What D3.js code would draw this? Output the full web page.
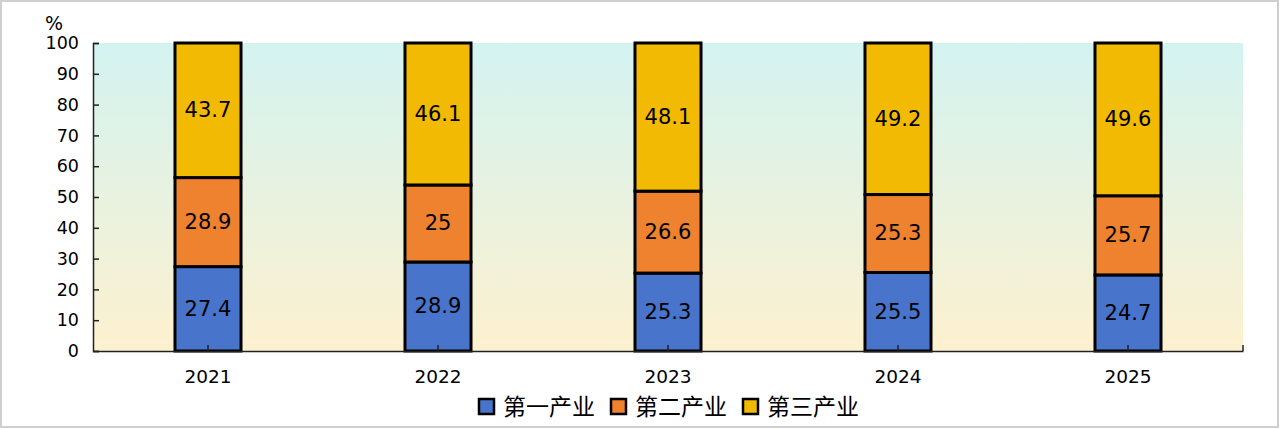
<!DOCTYPE html>
<html><head><meta charset="utf-8">
<script src="https://cdn.jsdelivr.net/npm/d3@7"></script>
<style>html,body{margin:0;padding:0;background:#fff;}svg{display:block;}</style>
</head><body>
<svg id="c" width="1280" height="429"></svg>
<script>
const years = ["2021","2022","2023","2024","2025"];
const seriesNames = ["第一产业","第二产业","第三产业"];
const primary = [27.4, 28.9, 25.3, 25.5, 24.7];
const secondary = [28.9, 25, 26.6, 25.3, 25.7];
const tertiary = [43.7, 46.1, 48.1, 49.2, 49.6];
const yTicks = [0,10,20,30,40,50,60,70,80,90,100];
const colors = ["#4874CB","#EE822F","#F2BA02"];

const svg = d3.select("#c");
const W = 1280, H = 429;
const m = {l:93, r:1243, t:43, b:351};
const x = d3.scaleBand().domain(years).range([m.l, m.r]).paddingInner(0.713).paddingOuter(0.3565);
const y = d3.scaleLinear().domain([0,100]).range([m.b, m.t]);

// background gradient
const defs = svg.append("defs");
const g = defs.append("linearGradient").attr("id","bg").attr("x1",0).attr("y1",0).attr("x2",0).attr("y2",1);
g.append("stop").attr("offset","0%").attr("stop-color","#d3f3f1");
g.append("stop").attr("offset","100%").attr("stop-color","#fdf1cf");
svg.append("rect").attr("x",m.l).attr("y",m.t).attr("width",m.r-m.l).attr("height",m.b-m.t).attr("fill","url(#bg)");

// outer border
svg.append("rect").attr("x",1).attr("y",1).attr("width",W-3).attr("height",H-3)
  .attr("fill","none").attr("stroke","#cfcfcf").attr("stroke-width",2);

const rows = years.map((yr,i)=>({year:yr, v:[primary[i], secondary[i], tertiary[i]]}));
const stack = [];
rows.forEach(r=>{ let acc=0; r.v.forEach((v,k)=>{ stack.push({year:r.year,k,v,y0:acc,y1:acc+v}); acc+=v; }); });

const bars = svg.append("g");
bars.selectAll("rect").data(stack).join("rect")
  .attr("x", d=>x(d.year)).attr("width", x.bandwidth())
  .attr("y", d=>y(d.y1)).attr("height", d=>y(d.y0)-y(d.y1))
  .attr("fill", d=>colors[d.k]).attr("stroke","#000").attr("stroke-width",3);

svg.append("g").selectAll("text").data(stack).join("text")
  .attr("x", d=>x(d.year)+x.bandwidth()/2).attr("y", d=>y((d.y0+d.y1)/2))
  .attr("text-anchor","middle").attr("dominant-baseline","central")
  .attr("font-family","DejaVu Sans").attr("font-size",21).attr("fill","#000")
  .text(d=>d.v);

// y axis
const ya = svg.append("g").attr("transform",`translate(${m.l},0)`)
  .call(d3.axisLeft(y).tickValues(yTicks).tickSize(-6).tickPadding(14));
ya.select(".domain").attr("stroke","#222").attr("stroke-width",1.5);
ya.selectAll(".tick line").attr("stroke","#222").attr("stroke-width",1.5);
ya.selectAll("text").attr("font-family","DejaVu Sans").attr("font-size",17.5).attr("fill","#000");

// x axis
const xa = svg.append("g").attr("transform",`translate(0,${m.b})`)
  .call(d3.axisBottom(x).tickSize(-6).tickPadding(19).tickSizeOuter(0));
xa.select(".domain").attr("stroke","#222").attr("stroke-width",1.5);
xa.selectAll(".tick line").attr("stroke","#222").attr("stroke-width",1.5);
xa.selectAll("text").attr("font-family","DejaVu Sans").attr("font-size",18.5).attr("fill","#000");
xa.append("line").attr("x1",m.r).attr("x2",m.r).attr("y1",0).attr("y2",-6).attr("stroke","#222").attr("stroke-width",1.5);

// % label
svg.append("text").attr("x",54).attr("y",30).attr("text-anchor","middle")
  .attr("font-family","DejaVu Sans").attr("font-size",19).text("%");

// legend
const legX = [478, 610, 742];
const leg = svg.append("g");
seriesNames.forEach((n,i)=>{
  leg.append("rect").attr("x",legX[i]+1).attr("y",399).attr("width",15).attr("height",15)
    .attr("fill",colors[i]).attr("stroke","#000").attr("stroke-width",2.5);
  leg.append("text").attr("x",legX[i]+25).attr("y",415)
    .attr("font-family","Noto Sans CJK SC").attr("font-size",23).attr("fill","#000").text(n);
});
</script>
</body></html>
